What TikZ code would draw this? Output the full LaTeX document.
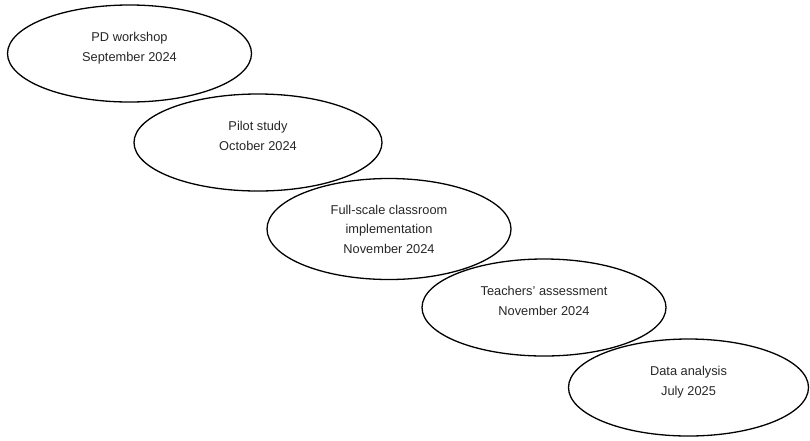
\documentclass[tikz,border=0pt]{standalone}
\usepackage{fontspec}
\setmainfont{Liberation Sans}
\usetikzlibrary{shapes.geometric}
\newcommand{\toppad}{\rule{0pt}{15pt}}
\newcommand{\botpad}{\rule{0pt}{0pt}}
\begin{document}
\begin{tikzpicture}[x=1pt,y=-1pt,
  phase/.style={draw=black, line width=1.3pt, ellipse, inner sep=0pt,
    minimum width=244pt, minimum height=97pt, align=center,
    font=\fontsize{12.8}{19.5}\selectfont, text=black!85}]
\useasboundingbox (0,0) rectangle (810,440);
\node[phase] (e1) at (129.5,53.5) {\toppad PD workshop\\September 2024\\\botpad};
\node[phase, minimum width=248pt] (e2) at (258,142.5) {\toppad Pilot study\\October 2024\\\botpad};
\node[phase, minimum height=101pt] (e3) at (389,229) {Full-scale classroom\\implementation\\November 2024};
\node[phase] (e4) at (544,307.5) {\toppad Teachers’ assessment\\November 2024\\\botpad};
\node[phase, minimum width=240pt] (e5) at (688.5,387.5) {\toppad Data analysis\\July 2025\\\botpad};
\end{tikzpicture}
\end{document}
